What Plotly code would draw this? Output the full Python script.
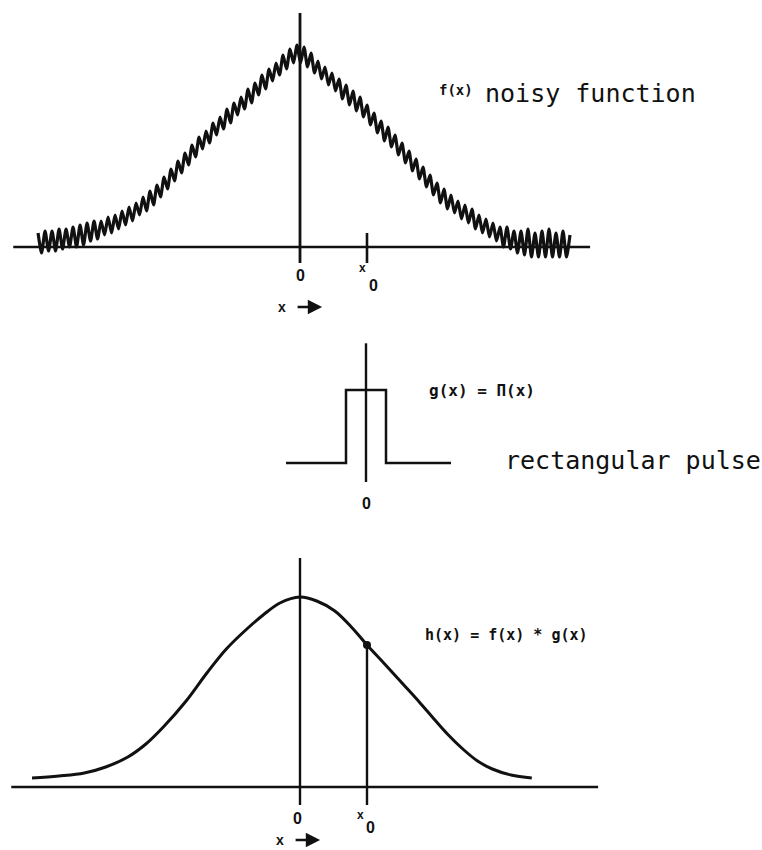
import numpy as np
import plotly.graph_objects as go

# ---- f(x): noisy function, crest / trough values alternating along its x grid
f_crest = [0.07, 0.08, 0.08, 0.09, 0.09, 0.10, 0.11, 0.12, 0.13, 0.13,
           0.15, 0.16, 0.18, 0.20, 0.22, 0.25, 0.28, 0.31, 0.35, 0.39,
           0.43, 0.47, 0.51, 0.55, 0.58, 0.62, 0.65, 0.69, 0.72, 0.75,
           0.79, 0.82, 0.86, 0.89, 0.92, 0.96, 0.99, 1.01, 1.00, 0.97,
           0.93, 0.90, 0.87, 0.84, 0.81, 0.78, 0.75, 0.71, 0.67, 0.63,
           0.60, 0.56, 0.52, 0.48, 0.44, 0.40, 0.36, 0.32, 0.29, 0.26,
           0.23, 0.21, 0.19, 0.16, 0.14, 0.12, 0.10, 0.10, 0.08, 0.08,
           0.09, 0.07, 0.08, 0.09, 0.07, 0.08, 0.06]
f_trough = [-0.03, -0.02, -0.02, -0.01, 0.00, 0.00, 0.01, 0.03, 0.04, 0.06,
            0.07, 0.09, 0.11, 0.13, 0.16, 0.18, 0.21, 0.25, 0.29, 0.33,
            0.37, 0.41, 0.45, 0.49, 0.52, 0.56, 0.59, 0.62, 0.66, 0.69,
            0.72, 0.76, 0.79, 0.83, 0.86, 0.89, 0.92, 0.92, 0.90, 0.87,
            0.84, 0.81, 0.78, 0.74, 0.71, 0.68, 0.65, 0.61, 0.57, 0.53,
            0.50, 0.46, 0.42, 0.38, 0.34, 0.30, 0.26, 0.22, 0.19, 0.17,
            0.14, 0.12, 0.09, 0.07, 0.05, 0.03, 0.00, -0.01, -0.03, -0.04,
            -0.05, -0.05, -0.05, -0.05, -0.05, -0.05]
f_x_first, f_x_last = -3.91, 4.03

# ---- g(x) = rectangular pulse of unit width and height
g_x = [-2.0, -0.5, -0.5, 0.5, 0.5, 2.125]
g_y = [0, 0, 1, 1, 0, 0]

# ---- h(x) = f(x) * g(x), the smoothed result
h_x = [-4.0, -3.6, -3.22, -2.9, -2.57, -2.3, -2.04, -1.7, -1.39, -1.1,
       -0.81, -0.55, -0.3, 0.0, 0.25, 0.52, 0.78, 1.0, 1.25, 1.55,
       1.78, 2.0, 2.2, 2.43, 2.65, 2.87, 3.15, 3.46]
h_y = [0.045, 0.055, 0.07, 0.10, 0.15, 0.215, 0.30, 0.43, 0.57, 0.69,
       0.785, 0.86, 0.92, 0.95, 0.93, 0.88, 0.795, 0.71, 0.62, 0.51,
       0.425, 0.34, 0.265, 0.19, 0.13, 0.09, 0.06, 0.045]

x0 = 1.0
h_at_x0 = h_y[h_x.index(x0)]

INK = "#111111"
MONO = "DejaVu Sans Mono"
SANS = "Liberation Sans"

# interleave crests and troughs into one trace
f_y = np.empty(len(f_crest) + len(f_trough))
f_y[0::2] = f_crest
f_y[1::2] = f_trough
f_x = np.linspace(f_x_first, f_x_last, len(f_y))

fig = go.Figure()

# top panel: noisy f(x)
fig.add_trace(go.Scatter(x=f_x, y=f_y, mode="lines", xaxis="x", yaxis="y",
                         line=dict(color=INK, width=3.2, shape="spline", smoothing=0.6),
                         hoverinfo="skip", showlegend=False))

# middle panel: the pulse
fig.add_trace(go.Scatter(x=g_x, y=g_y, mode="lines", xaxis="x2", yaxis="y2",
                         line=dict(color=INK, width=2.5),
                         hoverinfo="skip", showlegend=False))

# bottom panel: smooth h(x) and the sample at x0
fig.add_trace(go.Scatter(x=h_x, y=h_y, mode="lines", xaxis="x3", yaxis="y3",
                         line=dict(color=INK, width=3, shape="spline", smoothing=1.0),
                         hoverinfo="skip", showlegend=False))
fig.add_trace(go.Scatter(x=[x0, x0], y=[-0.09, h_at_x0], mode="lines", xaxis="x3", yaxis="y3",
                         line=dict(color=INK, width=2.4),
                         hoverinfo="skip", showlegend=False))
fig.add_trace(go.Scatter(x=[x0], y=[h_at_x0], mode="markers", xaxis="x3", yaxis="y3",
                         marker=dict(color=INK, size=8),
                         hoverinfo="skip", showlegend=False))

# hand-drawn style axes for each panel
def axis_line(x1, y1, x2, y2, xr, yr, w=2.4):
    fig.add_shape(type="line", x0=x1, y0=y1, x1=x2, y1=y2, xref=xr, yref=yr,
                  line=dict(color=INK, width=w))

axis_line(-4.28, 0, 4.33, 0, "x", "y")
axis_line(0, -0.08, 0, 1.17, "x", "y", 2.8)
axis_line(x0, -0.08, x0, 0.07, "x", "y", 2.6)

axis_line(0, -0.26, 0, 1.64, "x2", "y2")

axis_line(-4.31, 0, 4.45, 0, "x3", "y3")
axis_line(0, -0.09, 0, 1.145, "x3", "y3")

def label(text, x, y, xr, yr, size, bold=True, xanchor="center", family=MONO):
    fig.add_annotation(text=text, x=x, y=y, xref=xr, yref=yr, showarrow=False,
                       xanchor=xanchor, yanchor="middle",
                       font=dict(family=family, size=size, color=INK,
                                 weight="bold" if bold else "normal"))

def x_arrow(x_text, x_tip, y, xr, yr):
    label("x", x_text, y, xr, yr, 14, family=SANS)
    fig.add_annotation(text="", x=x_tip, y=y, xref=xr, yref=yr, showarrow=True,
                       ax=-26, ay=0, axref="pixel", ayref="pixel",
                       arrowhead=2, arrowsize=1.1, arrowwidth=2.6, arrowcolor=INK)

# top labels
label("0", 0, -0.14, "x", "y", 16, family=SANS)
label("x", 0.94, -0.105, "x", "y", 12, family=SANS)
label("0", 1.09, -0.19, "x", "y", 16, family=SANS)
x_arrow(-0.27, 0.33, -0.30, "x", "y")
label("f(x)", 2.33, 0.785, "x", "y", 14)
label("noisy function", 2.73, 0.77, "x", "y", 25, bold=False, xanchor="left")

# middle labels
label("0", 0, -0.55, "x2", "y2", 16, family=SANS)
label("g(x) = Π(x)", 1.52, 1.0, "x2", "y2", 16, xanchor="left")
label("rectangular pulse", 3.42, 0.04, "x2", "y2", 25, bold=False, xanchor="left")

# bottom labels
label("0", -0.03, -0.155, "x3", "y3", 16, family=SANS)
label("x", 0.9, -0.14, "x3", "y3", 12, family=SANS)
label("0", 1.05, -0.2, "x3", "y3", 16, family=SANS)
x_arrow(-0.3, 0.3, -0.265, "x3", "y3")
label("h(x) = f(x) * g(x)", 1.83, 0.76, "x3", "y3", 15, xanchor="left")

hidden = dict(visible=False, showgrid=False, zeroline=False, fixedrange=True)
fig.update_layout(
    width=762, height=850,
    margin=dict(l=0, r=0, t=0, b=0),
    paper_bgcolor="white", plot_bgcolor="white",
    xaxis=dict(domain=[0, 1], range=[-4.478, 6.896], anchor="y", **hidden),
    yaxis=dict(domain=[0.62, 1.0], range=[-0.38, 1.235], anchor="x", **hidden),
    xaxis2=dict(domain=[0, 1], range=[-9.15, 9.9], anchor="y2", **hidden),
    yaxis2=dict(domain=[0.38, 0.62], range=[-0.877, 1.918], anchor="x2", **hidden),
    xaxis3=dict(domain=[0, 1], range=[-4.478, 6.896], anchor="y3", **hidden),
    yaxis3=dict(domain=[0.0, 0.38], range=[-0.315, 1.3], anchor="x3", **hidden),
)

fig.write_html("out.html")
